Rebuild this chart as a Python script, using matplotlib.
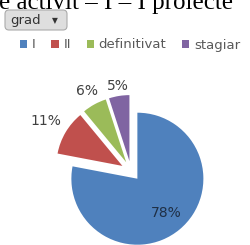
import math
import matplotlib
matplotlib.use("Agg")
import matplotlib.pyplot as plt
from matplotlib.patches import FancyBboxPatch

# === Данные ===
categories = ["I", "II", "definitivat", "stagiar"]
values = [78, 11, 6, 5]
colors = ["#4F81BD", "#C0504D", "#9BBB59", "#8064A2"]
filter_label = "grad"
header_text = "e activit \u2013 I \u2013 I proiecte"

# расстояние подписи от центра сектора (доля радиуса)
label_dist = [0.68, 1.34, 1.23, 1.15]

fig = plt.figure(figsize=(2.5, 2.45), dpi=100)
ax = fig.add_axes([0, 0, 1, 1])

wedges, texts, autotexts = ax.pie(
    values, colors=colors, startangle=90, counterclock=False,
    explode=[10] * len(values), center=(131, 74), radius=66,
    autopct="%d%%", textprops={"fontsize": 10, "color": "#404040"},
)

# подписи процентов — вручную двигаем, как в Excel "best fit"
for w, t, d in zip(wedges, autotexts, label_dist):
    mid = math.radians((w.theta1 + w.theta2) / 2)
    cx, cy = w.center
    t.set_position((cx + d * w.r * math.cos(mid), cy + d * w.r * math.sin(mid)))
autotexts[0].set_color("#1F2F45")

ax.set_xlim(0, 250)
ax.set_ylim(0, 245)
ax.set_aspect("auto")
ax.axis("off")

# легенда сверху
fig.legend(wedges, categories, loc="center left", bbox_to_anchor=(20 / 250, 1 - 45 / 245),
           ncol=4, frameon=False, fontsize=9.5, labelcolor="#595959",
           handlelength=0.55, handleheight=0.55, handletextpad=0.35,
           columnspacing=1.2, borderpad=0, borderaxespad=0)

# кнопка фильтра
btn = FancyBboxPatch((5, 215), 62, 20, boxstyle="round,pad=0,rounding_size=4",
                     facecolor="#DEDEDE", edgecolor="#ABABAB", linewidth=0.8)
ax.add_patch(btn)
ax.text(10, 224, filter_label, fontsize=9.5, color="#333333", va="center", ha="left")
ax.text(55, 224, "▼", fontsize=5.5, color="#333333", va="center", ha="center")

# обрезанная строка документа сверху
ax.text(-1, 236, header_text, fontsize=18, family="Liberation Serif",
        color="black", va="baseline", ha="left")

fig.savefig("out.png", dpi=100)
